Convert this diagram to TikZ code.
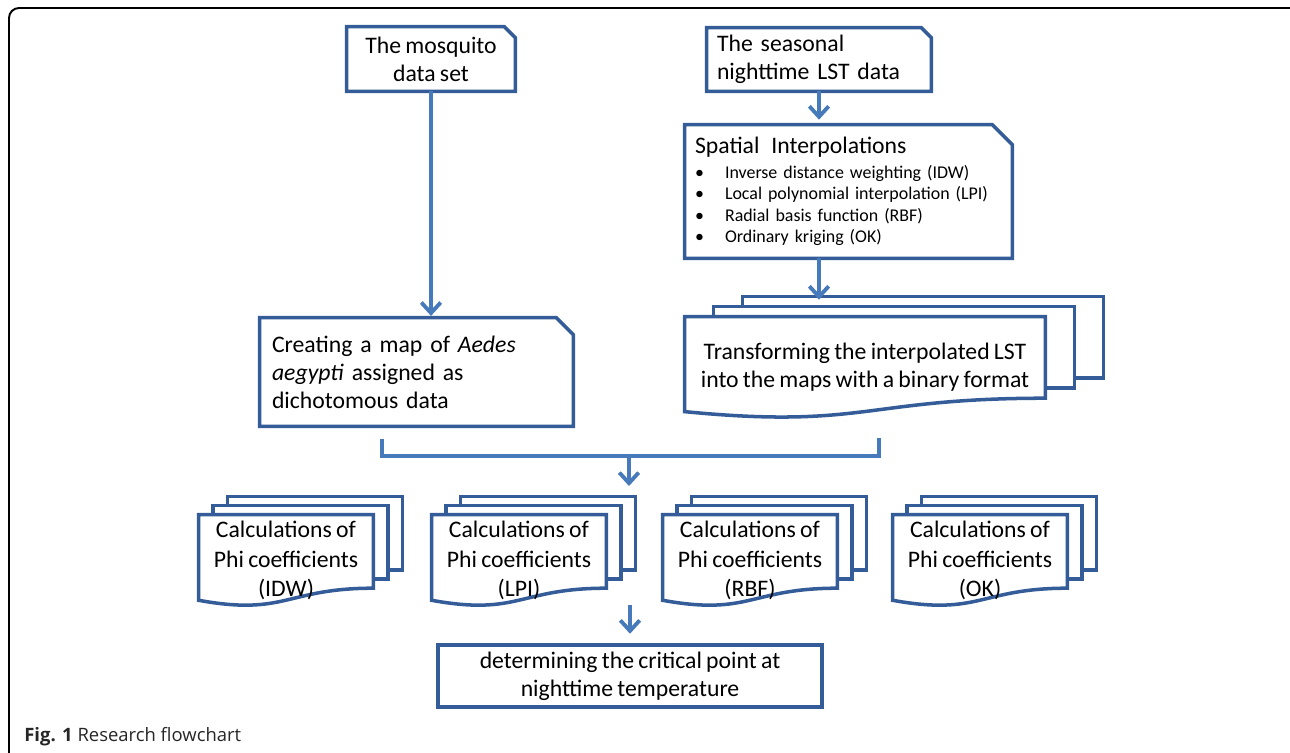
\documentclass[tikz,border=0pt]{standalone}
\usepackage{fontspec}
\setmainfont{Carlito}[WordSpace=0.8]
\newfontfamily\capfont{Open Sans}
\usepackage{xcolor}
\usepackage{tikz}
\usetikzlibrary{calc,arrows.meta,backgrounds}

\definecolor{boxblue}{RGB}{52,92,152}
\definecolor{arrowblue}{RGB}{70,122,186}

% outline of a box with its top right corner cut off
\newcommand{\snipframe}[2]{%
  \draw[boxline] (#1.south west) -- (#1.north west) -- ([xshift=-#2]#1.north east)
    -- ([yshift=-#2]#1.north east) -- (#1.south east) -- cycle;}
% stack of pages with a wavy bottom behind a node
\newcommand{\drawpages}[3]{%
  \begin{pgfonlayer}{background}
    \foreach \k in {2,1}
      \draw[boxline, fill=white] ($(#1.north west)+(\k*#2,\k*#3)$) rectangle
        ($(#1.north east)!0.802!(#1.south east)+(\k*#2,\k*#3)$);
    \draw[boxline, fill=white] (#1.north west) -- (#1.north east)
      -- ($(#1.north east)!0.802!(#1.south east)$)
      .. controls ($(#1.north)!0.802!(#1.south)$) and ($(#1.north)!1.107!(#1.south)$)
      .. ($(#1.north west)!0.934!(#1.south west)$) -- cycle;
  \end{pgfonlayer}}
\newcommand{\bul}{\makebox[0.6cm][l]{\textbullet}}

\begin{document}
\begin{tikzpicture}[x=0.02cm, y=-0.02cm]
  \tikzstyle{boxline} = [draw=boxblue, line width=2pt, line join=miter]
  \tikzstyle{snipbox} = [inner sep=0pt, font=\fontsize{13.5}{16}\selectfont]
  \tikzstyle{docbox} = [inner sep=0pt, align=center, font=\fontsize{13.5}{17}\selectfont]
  \tikzstyle{plainbox} = [rectangle, draw=boxblue, line width=2pt, inner sep=0pt, align=center, font=\fontsize{13.5}{16}\selectfont]
  \tikzstyle{arrow} = [draw=arrowblue, line width=2.2pt, -{Straight Barb[length=6pt,width=11pt]}]
  \tikzstyle{joint} = [draw=arrowblue, line width=2.2pt]

  \useasboundingbox (0,0) rectangle (1290,753);
  \draw[line width=1.1pt, rounded corners=0.2cm] (9,753) -- (9,8) -- (1290,8);

  \node (mosq) [snipbox, align=center, minimum width=3.36cm, minimum height=1.28cm] at (431,59) {The mosquito\\data set};
  \node (lst) [snipbox, align=left, text width=4.08cm, inner xsep=0.2cm, minimum height=1.26cm] at (819,59.5) {The seasonal\\nighttime LST data};
  \node (interp) [snipbox, align=left, text width=6.14cm, inner xsep=0.2cm, minimum height=2.66cm, font=\fontsize{10.2}{12.2}\selectfont] at (848.5,191.5)
    {{\fontsize{13.5}{16}\selectfont Spatial\ \ Interpolations}\\[2pt]
     \bul Inverse distance weighting (IDW)\\
     \bul Local polynomial interpolation (LPI)\\
     \bul Radial basis function (RBF)\\
     \bul Ordinary kriging (OK)};
  \node (mapbox) [snipbox, align=left, text width=5.78cm, inner xsep=0.24cm, minimum height=2.16cm] at (416.5,372)
    {Creating a map of \textit{Aedes}\\\textit{aegypti} assigned as\\dichotomous data};
  \snipframe{mosq}{0.22cm}
  \snipframe{lst}{0.2cm}
  \snipframe{interp}{0.4cm}
  \snipframe{mapbox}{0.34cm}

  \node (trans) [docbox, font=\fontsize{13.5}{16}\selectfont, minimum width=7.2cm, minimum height=2.02cm] at (865,367.5)
    {Transforming the interpolated LST\\into the maps with a binary format};
  \drawpages{trans}{0.58cm}{0.2cm}

  \foreach \cx/\meth in {286/IDW, 519/LPI, 750/RBF, 980/OK} {
    \node (phi\meth) [docbox, minimum width=3.48cm, minimum height=1.82cm] at (\cx,560.5)
      {Calculations of\\Phi coefficients\\(\meth)};
    \drawpages{phi\meth}{0.29cm}{0.18cm}
  }

  \node (crit) [plainbox, minimum width=7.68cm, minimum height=1.24cm] at (630,676)
    {determining the critical point at\\nighttime temperature};

  \draw[arrow, shorten >=1pt] (mosq.south) -- (mosq.south |- mapbox.north);
  \draw[arrow, shorten >=0.1cm] (lst.south) -- (lst.south |- interp.north);
  \draw[arrow] (lst.south |- interp.south) -- ([yshift=0.34cm]lst.south |- trans.north);

  \coordinate (brL) at (382,439);
  \coordinate (brR) at (879,438);
  \coordinate (brM) at (629,456);
  \coordinate (rowtop) at (629,486);
  \coordinate (rowbot) at (630,605);
  \draw[joint] (brL) -- (brL |- brM) -- (brR |- brM) -- (brR);
  \draw[arrow] (brM) -- (rowtop);
  \draw[arrow, shorten >=0.19cm] (rowbot) -- (crit);

  \node (caption) [anchor=west, inner sep=0pt, text=black!85, font=\capfont\fontsize{10.5}{12}\selectfont] at (24,737)
    {\textbf{Fig. 1} Research flowchart};
\end{tikzpicture}
\end{document}
